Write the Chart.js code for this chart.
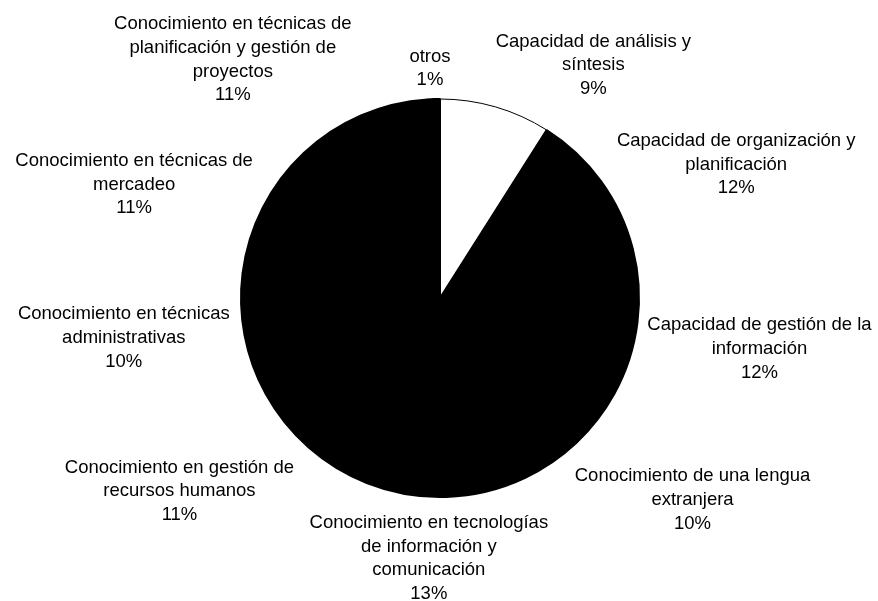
<!DOCTYPE html>
<html><head><meta charset="utf-8">
<script src="https://cdn.jsdelivr.net/npm/chart.js@4"></script>
<style>html,body{margin:0;padding:0;background:#fff}#wrap{width:878px;height:601px}</style>
</head><body><div id="wrap"><canvas id="c" width="878" height="601"></canvas></div>
<script>
const categories = [
  ["Capacidad de análisis y", "síntesis"],
  ["Capacidad de organización y", "planificación"],
  ["Capacidad de gestión de la", "información"],
  ["Conocimiento de una lengua", "extranjera"],
  ["Conocimiento en tecnologías", "de información y", "comunicación"],
  ["Conocimiento en gestión de", "recursos humanos"],
  ["Conocimiento en técnicas", "administrativas"],
  ["Conocimiento en técnicas de", "mercadeo"],
  ["Conocimiento en técnicas de", "planificación y gestión de", "proyectos"],
  ["otros"]
];
const values = [9, 12, 12, 10, 13, 11, 10, 11, 11, 1];
const percentLabels = ["9%", "12%", "12%", "10%", "13%", "11%", "10%", "11%", "11%", "1%"];
const sliceColors = ["#ffffff","#000000","#000000","#000000","#000000","#000000","#000000","#000000","#000000","#000000"];

// label placement tweaks (px), like a best-fit layout
const labelNudge = [[13,3],[7,11],[-1,20],[-9,23],[-29,3],[-7,9],[-4,-6],[0,-2],[-5,-2],[-1.5,4]];

const FONT = '18.5px "Liberation Sans", Arial, sans-serif';
const LINE_H = 23.7;

const labelPlugin = {
  id: 'outLabels',
  afterDatasetsDraw(chart) {
    const ctx = chart.ctx;
    const meta = chart.getDatasetMeta(0);
    ctx.save();
    ctx.font = FONT;
    ctx.fillStyle = '#000';
    ctx.textAlign = 'center';
    ctx.textBaseline = 'middle';
    meta.data.forEach((arc, i) => {
      const lines = categories[i].concat([percentLabels[i]]);
      const mid = (arc.startAngle + arc.endAngle) / 2;
      const r = 210;
      const ax = arc.x + Math.cos(mid) * r;
      const ay = arc.y + Math.sin(mid) * r;
      let w = 0;
      lines.forEach(l => { w = Math.max(w, ctx.measureText(l).width); });
      const h = lines.length * LINE_H;
      const cx = Math.cos(mid), sy = Math.sin(mid);
      const kx = Math.sign(cx) * Math.min(1, Math.abs(cx) * 3);
      const bx = ax + kx * w / 2 + labelNudge[i][0];
      const by = ay + sy * h / 2 + labelNudge[i][1];
      lines.forEach((l, j) => {
        ctx.fillText(l, bx, by - h / 2 + LINE_H * (j + 0.5));
      });
    });
    ctx.restore();
  }
};

new Chart(document.getElementById('c'), {
  type: 'pie',
  data: {
    labels: categories.map(c => c.join(' ')),
    datasets: [{
      data: values,
      backgroundColor: sliceColors,
      borderColor: '#000000',
      borderWidth: [1, 2, 2, 2, 2, 2, 2, 2, 2, 2]
    }]
  },
  options: {
    responsive: false,
    animation: false,
    layout: { padding: { top: 97, bottom: 102, left: 240, right: 238 } },
    plugins: { legend: { display: false }, tooltip: { enabled: false } }
  },
  plugins: [labelPlugin]
});
</script>
</body></html>
